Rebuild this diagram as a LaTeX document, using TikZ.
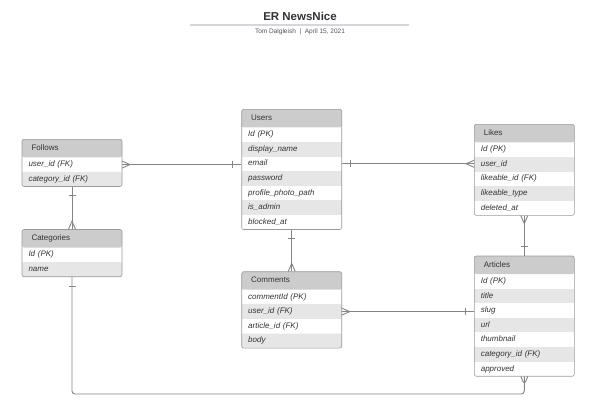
\documentclass[tikz,border=0pt]{standalone}
\usepackage{fontspec}
\setmainfont{Liberation Sans}
\usetikzlibrary{positioning,fit,decorations.markings}

\definecolor{erline}{HTML}{858585}
\definecolor{erborder}{HTML}{999999}
\definecolor{erhead}{HTML}{CCCCCC}
\definecolor{errow}{HTML}{E6E6E6}
\definecolor{ertext}{HTML}{333333}
\definecolor{errule}{HTML}{D3D7DD}

\begin{document}
\begin{tikzpicture}[x=1pt, y=-1pt,
    head/.style={anchor=north west, fill=erhead, text=ertext, outer sep=0pt,
      minimum width=100pt, minimum height=18pt, inner sep=0pt, inner xsep=9.5pt,
      text width=81pt, align=left, text height=6pt, text depth=1.8pt,
      rounded corners=2pt, font=\fontsize{8}{9.6}\selectfont},
    field/.style={text=ertext, outer sep=0pt, minimum width=100pt,
      minimum height=14.6pt, inner sep=0pt, inner xsep=6.5pt, text width=87pt,
      align=left, text height=6pt, text depth=1.8pt,
      font=\fontsize{8}{9.6}\selectfont\itshape},
    shade/.style={field, fill=errow},
    box/.style={draw=erborder, line width=0.6pt, rounded corners=2pt, inner sep=0pt},
    bar start/.style={postaction={decorate, decoration={markings,
      mark=at position 9pt with {\draw[erline] (0,-3.5pt) -- (0,3.5pt);}}}},
    bar end/.style={postaction={decorate, decoration={markings,
      mark=at position -9pt with {\draw[erline] (0,-3.5pt) -- (0,3.5pt);}}}},
    crow start/.style={postaction={decorate, decoration={markings,
      mark=at position 8pt with {\draw[erline] (-8pt,3.5pt) -- (0,0) -- (-8pt,-3.5pt);}}}},
    crow end/.style={postaction={decorate, decoration={markings,
      mark=at position -8pt with {\draw[erline] (8pt,3.5pt) -- (0,0) -- (8pt,-3.5pt);}}}}]
  \useasboundingbox (0,0) rectangle (605,420);

  % title block
  \node[text=ertext, font=\fontsize{11.5}{13}\selectfont\bfseries] (title) at (300,16) {ER NewsNice};
  \draw[errule, line width=1.6pt] (190,25) -- (409,25);
  \node[text=ertext!85, font=\fontsize{6.5}{8}\selectfont] (byline) at (300,32) {Tom Dalgleish\ \ |\ \ April 15, 2021};

  % Follows
  \node[head] (follows-h) at (22,139.3) {Follows};
  \node[field, below=0pt of follows-h] (follows-1) {user\_id (FK)};
  \node[shade, below=0pt of follows-1, rounded corners=2pt] (follows-2) {category\_id (FK)};
  \node[box, fit=(follows-h)(follows-2)] (follows) {};

  % Categories
  \node[head] (categories-h) at (22,229.5) {Categories};
  \node[field, below=0pt of categories-h] (categories-1) {Id (PK)};
  \node[shade, below=0pt of categories-1, rounded corners=2pt] (categories-2) {name};
  \node[box, fit=(categories-h)(categories-2)] (categories) {};

  % Users
  \node[head] (users-h) at (241.7,109.3) {Users};
  \node[field, below=0pt of users-h] (users-1) {Id (PK)};
  \node[shade, below=0pt of users-1] (users-2) {display\_name};
  \node[field, below=0pt of users-2] (users-3) {email};
  \node[shade, below=0pt of users-3] (users-4) {password};
  \node[field, below=0pt of users-4] (users-5) {profile\_photo\_path};
  \node[shade, below=0pt of users-5] (users-6) {is\_admin};
  \node[field, below=0pt of users-6] (users-7) {blocked\_at};
  \node[box, fit=(users-h)(users-7)] (users) {};

  % Comments
  \node[head] (comments-h) at (241.7,271.7) {Comments};
  \node[field, below=0pt of comments-h] (comments-1) {commentId (PK)};
  \node[shade, below=0pt of comments-1] (comments-2) {user\_id (FK)};
  \node[field, below=0pt of comments-2] (comments-3) {article\_id (FK)};
  \node[shade, below=0pt of comments-3, rounded corners=2pt] (comments-4) {body};
  \node[box, fit=(comments-h)(comments-4)] (comments) {};

  % Likes
  \node[head] (likes-h) at (474.3,124.3) {Likes};
  \node[field, below=0pt of likes-h] (likes-1) {Id (PK)};
  \node[shade, below=0pt of likes-1] (likes-2) {user\_id};
  \node[field, below=0pt of likes-2] (likes-3) {likeable\_id (FK)};
  \node[shade, below=0pt of likes-3] (likes-4) {likeable\_type};
  \node[field, below=0pt of likes-4] (likes-5) {deleted\_at};
  \node[box, fit=(likes-h)(likes-5)] (likes) {};

  % Articles
  \node[head] (articles-h) at (474.3,256) {Articles};
  \node[field, below=0pt of articles-h] (articles-1) {Id (PK)};
  \node[shade, below=0pt of articles-1] (articles-2) {title};
  \node[field, below=0pt of articles-2] (articles-3) {slug};
  \node[shade, below=0pt of articles-3] (articles-4) {url};
  \node[field, below=0pt of articles-4] (articles-5) {thumbnail};
  \node[shade, below=0pt of articles-5] (articles-6) {category\_id (FK)};
  \node[field, below=0pt of articles-6] (articles-7) {approved};
  \node[box, fit=(articles-h)(articles-7)] (articles) {};

  % relations
  \coordinate (floor) at (0,394);
  \begin{scope}[every edge/.style={draw=erline, line width=0.9pt}]
    \path (follows-1.east) edge[crow start, bar end] (follows-1.east -| users.west);
    \path (follows.south) edge[bar start, crow end] (categories.north);
    \path (users-3.east) edge[bar start, crow end] (users-3.east -| likes.west);
    \path (users.south) edge[bar start, crow end] (comments.north);
    \path (likes.south) edge[crow start, bar end] (articles.north);
    \path (comments-2.east) edge[crow start, bar end] (comments-2.east -| articles.west);
    \draw[erline, line width=0.9pt, rounded corners=3pt, bar start, crow end]
      (categories.south) |- (articles.south |- floor) -- (articles.south);
  \end{scope}
\end{tikzpicture}
\end{document}
